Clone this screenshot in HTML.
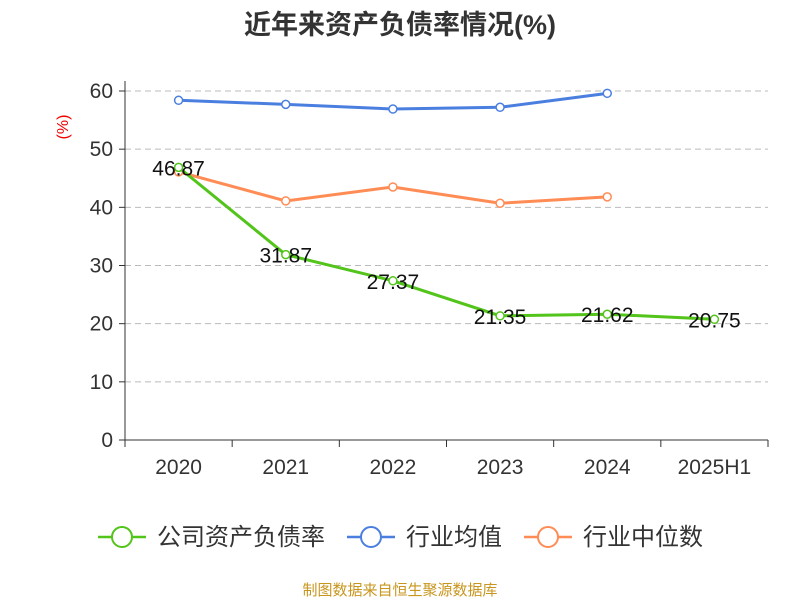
<!DOCTYPE html>
<html><head><meta charset="utf-8"><style>
body{margin:0;background:#fff;font-family:"Liberation Sans","Noto Sans CJK SC",sans-serif}
</style></head><body>
<svg width="800" height="600" xmlns="http://www.w3.org/2000/svg" style="font-family:'Liberation Sans','Noto Sans CJK SC',sans-serif">
<text x="400" y="34" text-anchor="middle" font-size="27" font-weight="bold" fill="#333">近年来资产负债率情况(%)</text>
<text x="68" y="127" text-anchor="middle" font-size="16" fill="#e00" transform="rotate(-90 68 127)">(%)</text>
<g id="grid"></g><g id="axes"></g><g id="series"></g>
<g font-size="24" fill="#333">
<g><line x1="98" y1="537" x2="146" y2="537" stroke="#52c41a" stroke-width="2.5"/><circle cx="122" cy="537" r="10" fill="#fff" stroke="#52c41a" stroke-width="2"/><text x="157" y="545">公司资产负债率</text></g>
<g><line x1="347" y1="537" x2="395" y2="537" stroke="#4a7fe0" stroke-width="2.5"/><circle cx="371" cy="537" r="10" fill="#fff" stroke="#4a7fe0" stroke-width="2"/><text x="406" y="545">行业均值</text></g>
<g><line x1="524" y1="537" x2="572" y2="537" stroke="#ff8c55" stroke-width="2.5"/><circle cx="548" cy="537" r="10" fill="#fff" stroke="#ff8c55" stroke-width="2"/><text x="583" y="545">行业中位数</text></g>
</g>
<text x="400" y="595" text-anchor="middle" font-size="15" fill="#c8961e">制图数据来自恒生聚源数据库</text>
</svg>
<script>
const categories=["2020","2021","2022","2023","2024","2025H1"];
const companyValues=[46.87,31.87,27.37,21.35,21.62,20.75];
const avgValues=[58.4,57.7,56.9,57.2,59.6];
const medianValues=[46.1,41.1,43.5,40.7,41.8];
const yTicks=[0,10,20,30,40,50,60];
const NS="http://www.w3.org/2000/svg";
const x0=125,x1=768,yb=440,yt=91,yMax=60;
const bw=(x1-x0)/categories.length;
const X=i=>x0+bw*(i+0.5);
const Y=v=>yb-(v/yMax)*(yb-yt);
function mk(t,a,p){const e=document.createElementNS(NS,t);for(const k in a)e.setAttribute(k,a[k]);p.appendChild(e);return e;}
const grid=document.getElementById('grid'),axes=document.getElementById('axes'),ser=document.getElementById('series');
yTicks.forEach(v=>{
 if(v>0){const g=mk('line',{x1:x0,x2:x1,y1:Y(v),y2:Y(v),stroke:'#bbb','stroke-dasharray':'6,4'},grid);
 
 }
 mk('line',{x1:x0-6,x2:x0,y1:Y(v),y2:Y(v),stroke:'#333'},axes);
 const t=mk('text',{x:x0-12,y:Y(v)+7,'text-anchor':'end','font-size':21,fill:'#333'},axes);t.textContent=v;
 
 
});
mk('line',{x1:x0,x2:x0,y1:yt-10,y2:yb,stroke:'#333'},axes);
mk('line',{x1:x0,x2:x1,y1:yb,y2:yb,stroke:'#333'},axes);
for(let i=0;i<=categories.length;i++)mk('line',{x1:x0+bw*i,x2:x0+bw*i,y1:yb,y2:yb+7,stroke:'#333'},axes);
categories.forEach((c,i)=>{const t=mk('text',{x:X(i),y:474,'text-anchor':'middle','font-size':21,fill:'#333'},axes);t.textContent=c;
 
 });
function line(vals,color,name,labels){
 const g=mk('g',{},ser);
 
 
 mk('polyline',{points:vals.map((v,i)=>X(i)+','+Y(v)).join(' '),fill:'none',stroke:color,'stroke-width':3},g);
 vals.forEach((v,i)=>{const c=mk('circle',{cx:X(i),cy:Y(v),r:4,fill:'#fff',stroke:color,'stroke-width':1.5},g);
 
 
 if(labels){const t=mk('text',{x:X(i),y:Y(v)+8,'text-anchor':'middle','font-size':21,fill:'#111'},g);t.textContent=v.toFixed(2);
 
 }});
}
line(avgValues,'#4a7fe0','industry-average-line',false);
line(medianValues,'#ff8c55','industry-median-line',false);
line(companyValues,'#52c41a','company-debt-ratio-line',true);
</script>
</body></html>
